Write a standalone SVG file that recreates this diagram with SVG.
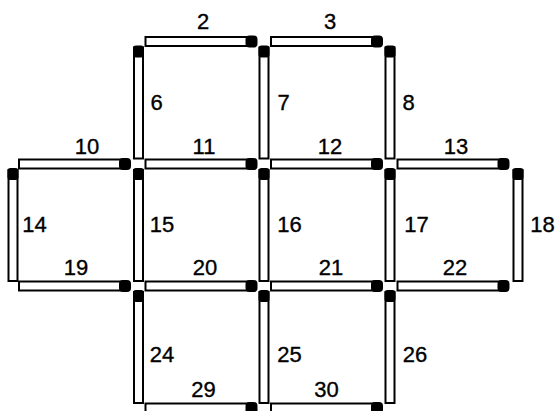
<svg xmlns="http://www.w3.org/2000/svg" xmlns:xlink="http://www.w3.org/1999/xlink" width="560" height="411" viewBox="0 0 560 411">
<style>
.body{fill:#fff;stroke:#000;stroke-width:2}
.head{fill:#000}
.lbl{font-family:"Liberation Sans",Arial,sans-serif;font-size:22px;fill:#000;stroke:#000;stroke-width:0.35;text-anchor:middle}
</style>
<defs>
<g id="hm">
<rect class="body" x="0" y="-4.5" width="106" height="9"/>
<rect class="head" x="100" y="-6" width="12" height="12" rx="4"/>
</g>
<g id="vm">
<rect class="body" x="-4.5" y="6" width="9" height="111"/>
<rect class="head" x="-5.5" y="4" width="11" height="12" rx="3"/>
</g>
</defs>
<rect width="560" height="411" fill="#fff"/>
<g id="matches">
<g id="m2"><use xlink:href="#hm" transform="translate(145.5,41.5)"/><text class="lbl" x="203" y="29">2</text></g>
<g id="m3"><use xlink:href="#hm" transform="translate(271,41.5)"/><text class="lbl" x="330" y="29">3</text></g>
<g id="m6"><use xlink:href="#vm" transform="translate(138.5,41.5)"/><text class="lbl" x="156.5" y="110">6</text></g>
<g id="m7"><use xlink:href="#vm" transform="translate(264,41.5)"/><text class="lbl" x="283.5" y="110">7</text></g>
<g id="m8"><use xlink:href="#vm" transform="translate(390,41.5)"/><text class="lbl" x="408.5" y="110">8</text></g>
<g id="m10"><use xlink:href="#hm" transform="translate(19,164)"/><text class="lbl" x="87" y="154">10</text></g>
<g id="m11"><use xlink:href="#hm" transform="translate(145.5,164)"/><text class="lbl" x="204" y="154">11</text></g>
<g id="m12"><use xlink:href="#hm" transform="translate(271,164)"/><text class="lbl" x="330" y="154">12</text></g>
<g id="m13"><use xlink:href="#hm" transform="translate(397.5,164)"/><text class="lbl" x="456" y="154">13</text></g>
<g id="m14"><use xlink:href="#vm" transform="translate(13,164)"/><text class="lbl" x="34.5" y="232">14</text></g>
<g id="m15"><use xlink:href="#vm" transform="translate(138.5,164)"/><text class="lbl" x="162" y="232">15</text></g>
<g id="m16"><use xlink:href="#vm" transform="translate(264,164)"/><text class="lbl" x="289.5" y="232">16</text></g>
<g id="m17"><use xlink:href="#vm" transform="translate(390,164)"/><text class="lbl" x="416.5" y="232">17</text></g>
<g id="m18"><use xlink:href="#vm" transform="translate(518,164)"/><text class="lbl" x="542.5" y="232">18</text></g>
<g id="m19"><use xlink:href="#hm" transform="translate(19,286)"/><text class="lbl" x="76" y="275">19</text></g>
<g id="m20"><use xlink:href="#hm" transform="translate(145.5,286)"/><text class="lbl" x="205" y="275">20</text></g>
<g id="m21"><use xlink:href="#hm" transform="translate(271,286)"/><text class="lbl" x="331" y="275">21</text></g>
<g id="m22"><use xlink:href="#hm" transform="translate(397.5,286)"/><text class="lbl" x="455" y="275">22</text></g>
<g id="m24"><use xlink:href="#vm" transform="translate(138.5,286)"/><text class="lbl" x="162" y="362">24</text></g>
<g id="m25"><use xlink:href="#vm" transform="translate(264,286)"/><text class="lbl" x="289.5" y="362">25</text></g>
<g id="m26"><use xlink:href="#vm" transform="translate(390,286)"/><text class="lbl" x="415" y="362">26</text></g>
<g id="m29"><use xlink:href="#hm" transform="translate(145.5,408)"/><text class="lbl" x="203.5" y="397">29</text></g>
<g id="m30"><use xlink:href="#hm" transform="translate(271,408)"/><text class="lbl" x="326.5" y="397">30</text></g>
</g>
<g id="connectors"/>
</svg>
